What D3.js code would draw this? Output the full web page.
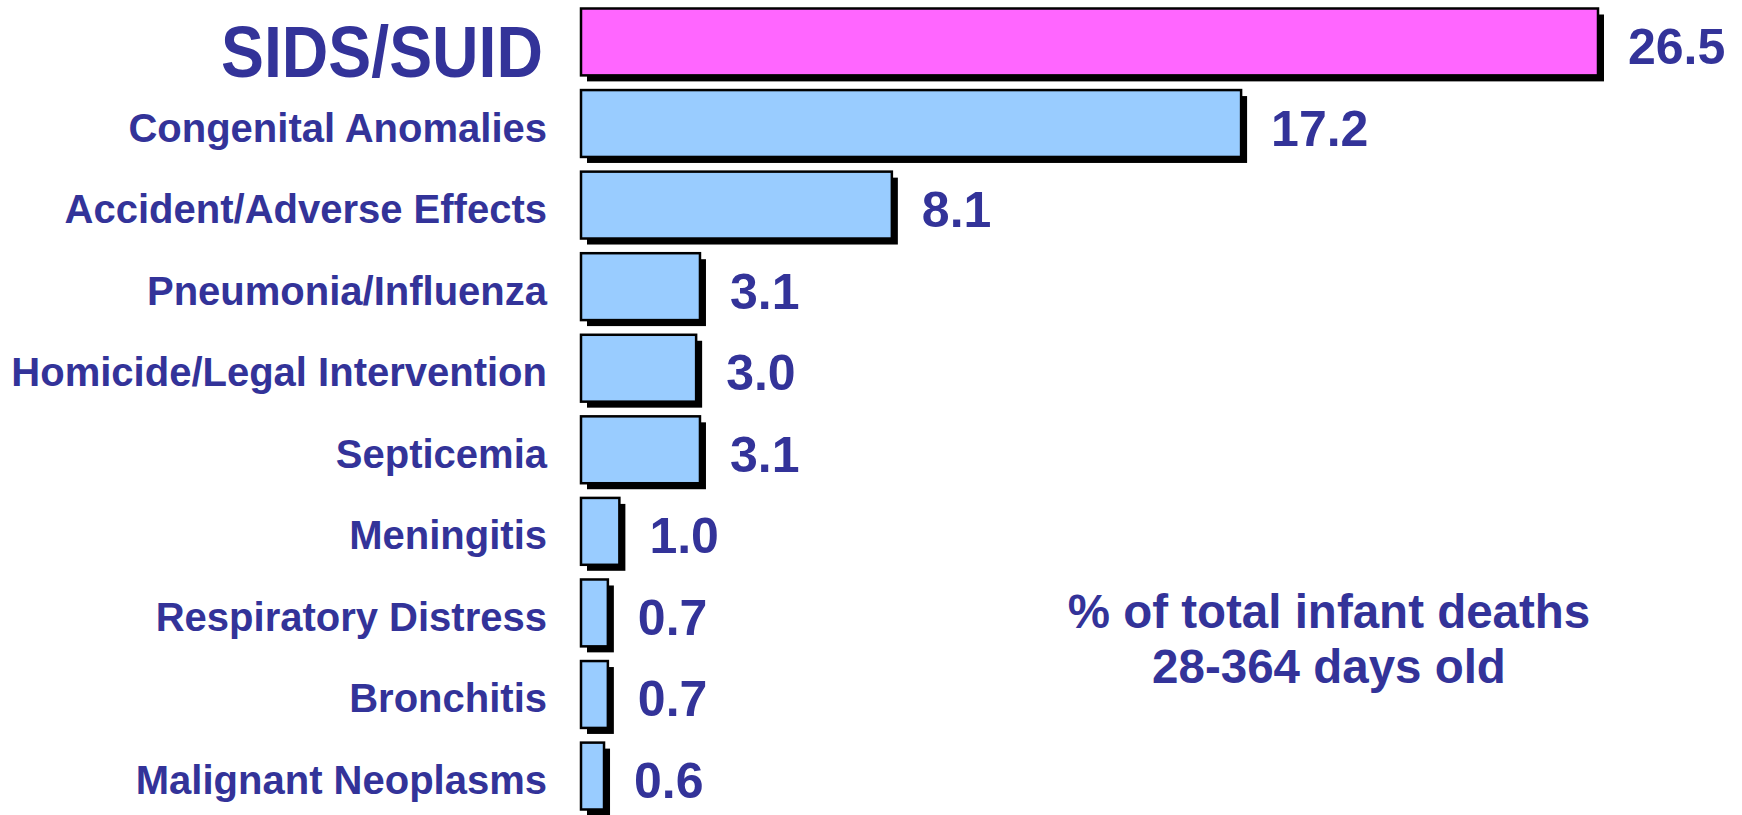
<!DOCTYPE html>
<html>
<head>
<meta charset="utf-8">
<script src="https://cdn.jsdelivr.net/npm/d3@7"></script>
<style>
  body { margin: 0; background: #fff; }
  text { font-family: "Liberation Sans", Arial, sans-serif; font-weight: bold; fill: #333399; }
</style>
</head>
<body>
<script>
// data
const causes = ["SIDS/SUID", "Congenital Anomalies", "Accident/Adverse Effects", "Pneumonia/Influenza",
  "Homicide/Legal Intervention", "Septicemia", "Meningitis", "Respiratory Distress", "Bronchitis",
  "Malignant Neoplasms"];
const percents = [26.5, 17.2, 8.1, 3.1, 3.0, 3.1, 1.0, 0.7, 0.7, 0.6];
const noteLines = ["% of total infant deaths", "28-364 days old"];

const rows = causes.map((c, i) => ({ cause: c, value: percents[i] }));

const width = 1742, height = 815;
const left = 581, shadow = 6;

const svg = d3.select("body").append("svg")
    .attr("width", width)
    .attr("height", height);

const x = d3.scaleLinear()
    .domain([0, 26.5])
    .range([left, 1598]);

const y = d3.scaleBand()
    .domain(causes)
    .range([8.5, 809.5])
    .paddingInner(0.18)
    .paddingOuter(0);

const bars = svg.append("g");

// drop shadow
bars.selectAll(".shadow")
    .data(rows)
    .enter()
    .append("rect")
    .attr("x", left + shadow)
    .attr("y", d => y(d.cause) + shadow)
    .attr("width", d => x(d.value) - left)
    .attr("height", y.bandwidth())
    .style("fill", "#000");

bars.selectAll(".bar")
    .data(rows)
    .enter()
    .append("rect")
    .attr("x", left)
    .attr("y", d => y(d.cause))
    .attr("width", d => x(d.value) - left)
    .attr("height", y.bandwidth())
    .style("fill", (d, i) => i === 0 ? "#ff66ff" : "#99ccff")
    .attr("stroke", "#000")
    .attr("stroke-width", 2.5);

// category labels
svg.append("g").selectAll("text")
    .data(rows)
    .enter()
    .append("text")
    .attr("x", (d, i) => i === 0 ? 543 : 547)
    .attr("y", (d, i) => y(d.cause) + y.bandwidth() / 2 + (i === 0 ? 35 : 18))
    .attr("text-anchor", "end")
    .style("font-size", (d, i) => i === 0 ? "73px" : "40px")
    .each(function (d, i) {
        if (i === 0) d3.select(this).attr("textLength", 322).attr("lengthAdjust", "spacingAndGlyphs");
    })
    .text(d => d.cause);

// value labels
svg.append("g").selectAll("text")
    .data(rows)
    .enter()
    .append("text")
    .attr("x", d => x(d.value) + 30)
    .attr("y", d => y(d.cause) + y.bandwidth() / 2 + 22)
    .style("font-size", "50px")
    .text(d => d.value.toFixed(1));

// note
svg.append("g").selectAll("text")
    .data(noteLines)
    .enter()
    .append("text")
    .attr("x", 1329)
    .attr("y", (d, i) => 628 + i * 55)
    .attr("text-anchor", "middle")
    .style("font-size", "47.5px")
    .text(d => d);
</script>
</body>
</html>
